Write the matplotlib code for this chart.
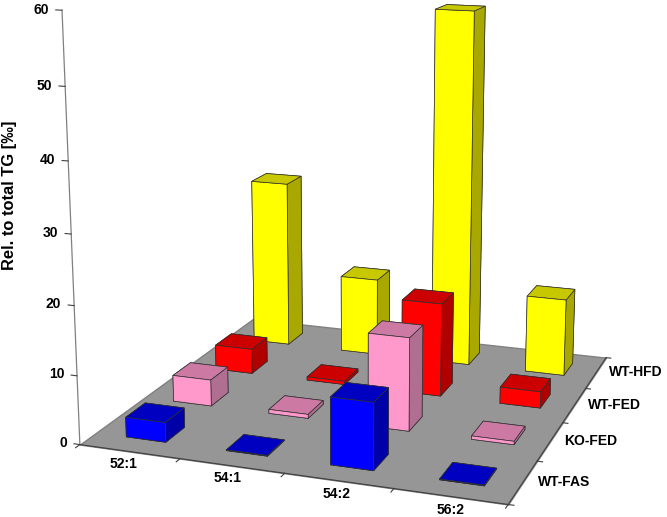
import matplotlib
matplotlib.use('Agg')
import matplotlib.pyplot as plt
from mpl_toolkits.mplot3d import proj3d
from mpl_toolkits.mplot3d.art3d import Poly3DCollection

lipids = ['52:1', '54:1', '54:2', '56:2']
groups = ['WT-FAS', 'KO-FED', 'WT-FED', 'WT-HFD']
wt_fas = [2.9, 0.1, 9.6, 0.1]
ko_fed = [4.0, 0.6, 13.8, 0.5]
wt_fed = [3.9, 0.5, 14.3, 2.5]
wt_hfd = [26.7, 12.3, 55.6, 12.1]
values = [wt_fas, ko_fed, wt_fed, wt_hfd]

# front, top, side colours per group
fronts = ['#0000ff', '#ff99cc', '#ff0000', '#ffff00']
tops = ['#0000c0', '#cc7aa3', '#cc0000', '#c8c800']
sides = ['#0000a8', '#b06f90', '#b00000', '#a8a800']

fig = plt.figure(figsize=(6.67, 5.17), dpi=100)
ax = fig.add_axes([-0.0015, -0.091, 1.0585, 1.3656], projection='3d')
ax.view_init(elev=13.6, azim=-70.5)
ax.set_proj_type('persp', focal_length=0.45)
ax.set_box_aspect((1.0, 1.0, 0.986))
ax.set_xlim(0, 4)
ax.set_ylim(0, 4)
ax.set_zlim(0, 60)
ax.set_axis_off()
ax.computed_zorder = False

floor = Poly3DCollection([[(0, 0, 0), (4, 0, 0), (4, 4, 0), (0, 4, 0)]], facecolor='#969696', edgecolor='#808080', zorder=1)
ax.add_collection3d(floor)

w = 0.40
off = 0.31
for g in range(4):
    for i in range(4):
        # faces: bottom, top, front, back, left, right
        cols = [sides[g], tops[g], fronts[g], sides[g], sides[g], sides[g]]
        ax.bar3d(i + off, g + off, 0, w, w, values[g][i], color=cols, edgecolor='#303030', linewidth=0.5,
                 shade=False, zorder=10 + (3 - g) * 10 + i)


def label(x, y, z, s, size, ha):
    # 3d position to the 2d plane of the axes, so the text sits where it is drawn
    px, py, _ = proj3d.proj_transform(x, y, z, ax.get_proj())
    fig.text(px, py, s, transform=ax.transData, fontsize=size, ha=ha, va='center',
             fontweight='bold', family='Liberation Sans', color='black', zorder=200)


# axes lines and ticks
ax.plot([0, 0], [0, 0], [0, 60], color='#808080', lw=0.9, zorder=2)
ax.plot([0, 4], [0, 0], [0, 0], color='#404040', lw=0.8, zorder=2)
ax.plot([4, 4], [0, 4], [0, 0], color='#404040', lw=0.8, zorder=2)
for z in range(0, 70, 10):
    ax.plot([-0.06, 0], [0, 0], [z, z], color='#404040', lw=0.8, zorder=2)
    label(-0.13, 0, z, str(z), 10, 'right')
for i in range(5):
    ax.plot([i, i], [-0.08, 0], [0, 0], color='#404040', lw=0.8, zorder=2)
for g in range(5):
    ax.plot([4, 4.05], [g, g], [0, 0], color='#404040', lw=0.8, zorder=2)
for i, lab in enumerate(lipids):
    label(i + 0.58, -0.27, 0, lab, 10, 'center')
for g, lab in enumerate(groups):
    label(4.12, g + 0.55, 0, lab, 10, 'left')

fig.text(0.0135, 0.623, 'Rel. to total TG [‰]', rotation=90, fontsize=11.9, fontweight='bold', family='Liberation Sans', ha='center', va='center')
fig.savefig('out.png', dpi=100)
